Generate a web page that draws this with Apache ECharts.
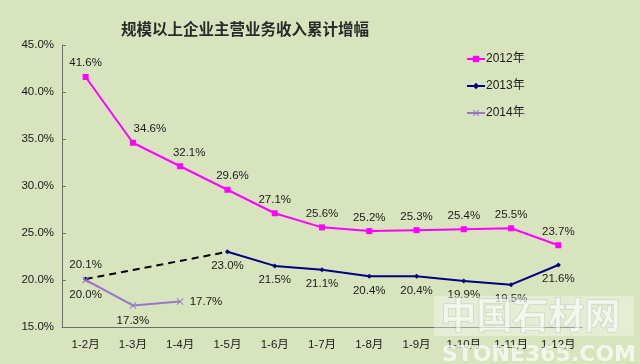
<!DOCTYPE html>
<html>
<head>
<meta charset="utf-8">
<script src="https://cdn.jsdelivr.net/npm/echarts@6/dist/echarts.min.js"></script>
<style>
html,body{margin:0;padding:0;background:#D7E4BD;}
#chart{width:640px;height:364px;}
</style>
</head>
<body>
<div id="chart"></div>
<script>
const categories = ['1-2月','1-3月','1-4月','1-5月','1-6月','1-7月','1-8月','1-9月','1-10月','1-11月','1-12月'];
const s2012 = [41.6, 34.6, 32.1, 29.6, 27.1, 25.6, 25.2, 25.3, 25.4, 25.5, 23.7];
const s2013 = [20.1, null, null, 23.0, 21.5, 21.1, 20.4, 20.4, 19.9, 19.5, 21.6];
const s2013Gap = [20.1, null, null, 23.0];
const s2014 = [20.0, 17.3, 17.7];
const yTicks = { min: 15, max: 45, interval: 5 };
const titleText = '规模以上企业主营业务收入累计增幅';

const FONT = '"Liberation Sans", Arial, "Noto Sans CJK SC", sans-serif';
const xPath = 'path://M0,1L1,0L5,4L9,0L10,1L6,5L10,9L9,10L5,6L1,10L0,9L4,5Z';
const pct = p => p.value.toFixed(1) + '%';
const lbl = { show: true, formatter: pct, color: '#1a1a1a', fontSize: 11.5, fontFamily: FONT };

const d2012 = s2012.map((v, i) => {
  const o = { value: v };
  if (i === 1) o.label = { offset: [17, 0] };
  if (i === 2) o.label = { offset: [9, 0] };
  if (i === 3) o.label = { offset: [5, 0] };
  return o;
});
const d2013 = s2013.map((v, i) => {
  if (v === null) return null;
  const o = { value: v };
  if (i === 0) o.label = { position: 'top' };
  return o;
});
const d2014 = s2014.map((v, i) => {
  const o = { value: v };
  if (i === 2) o.label = { position: 'right' };
  return o;
});

const chart = echarts.init(document.getElementById('chart'), null, { renderer: 'canvas' });
chart.setOption({
  backgroundColor: '#D7E4BD',
  animation: false,
  textStyle: { fontFamily: FONT },
  title: {
    text: titleText, left: 116, top: 16,
    textStyle: { fontFamily: '"Noto Sans CJK SC", sans-serif', fontSize: 15.5, fontWeight: 'bold', color: '#2a2a2a' }
  },
  legend: {
    orient: 'vertical', left: 461, top: 48, itemWidth: 18, itemHeight: 8, itemGap: 15,
    textStyle: { fontFamily: FONT, fontSize: 12, color: '#1a1a1a', padding: [0, 0, 0, -4] },
    data: ['2012年', '2013年', '2014年']
  },
  grid: { left: 62, right: 58, top: 45, bottom: 37 },
  xAxis: {
    type: 'category', data: categories, boundaryGap: true,
    axisLine: { lineStyle: { color: '#6f6f6f', width: 1 } },
    axisTick: { inside: true, length: 4, lineStyle: { color: '#6f6f6f' } },
    axisLabel: { margin: 12, fontSize: 11.5, color: '#1a1a1a', fontFamily: FONT }
  },
  yAxis: {
    type: 'value', min: yTicks.min, max: yTicks.max, interval: yTicks.interval,
    splitLine: { show: false },
    axisLine: { show: true, lineStyle: { color: '#6f6f6f', width: 1 } },
    axisTick: { show: true, inside: true, length: 4, lineStyle: { color: '#6f6f6f' } },
    axisLabel: { formatter: v => v.toFixed(1) + '%', fontSize: 11.5, color: '#1a1a1a', margin: 8, fontFamily: FONT }
  },
  series: [
    {
      name: '2013年虚线', type: 'line', data: s2013Gap, connectNulls: true,
      symbol: 'none', silent: true, z: 1,
      lineStyle: { color: '#000000', width: 2, type: [7, 5] }
    },
    {
      name: '2012年', type: 'line', data: d2012, color: '#FF00FF',
      symbol: 'rect', symbolSize: 6,
      lineStyle: { width: 2, color: '#FF00FF' },
      label: Object.assign({}, lbl, { position: 'top', distance: 5 })
    },
    {
      name: '2013年', type: 'line', data: d2013, color: '#000080',
      symbol: 'diamond', symbolSize: 5, showAllSymbol: true,
      lineStyle: { width: 2, color: '#000080' },
      label: Object.assign({}, lbl, { position: 'bottom', distance: 6 })
    },
    {
      name: '2014年', type: 'line', data: d2014, color: '#9579C6',
      symbol: xPath, symbolSize: 7,
      lineStyle: { width: 2, color: '#9579C6' },
      label: Object.assign({}, lbl, { position: 'bottom', distance: 6 })
    }
  ],
  graphic: [
    { type: 'rect', left: 434, top: 296, shape: { width: 200, height: 40, r: 3 },
      style: { fill: 'rgba(255,255,255,0.35)' }, silent: true, z: 100 },
    { type: 'text', left: 440, top: 297,
      style: { text: '中国石材网', fill: 'rgba(255,255,255,0.55)', stroke: 'rgba(150,150,150,0.35)', lineWidth: 1,
               font: 'bold 36px "Noto Sans CJK SC", sans-serif' }, silent: true, z: 101 },
    { type: 'text', left: 442, top: 344,
      style: { text: 'STONE365.COM', fill: 'rgba(255,255,255,0.7)',
               font: 'bold 22px "DejaVu Sans", sans-serif' }, silent: true, z: 101 }
  ]
});
</script>
</body>
</html>
